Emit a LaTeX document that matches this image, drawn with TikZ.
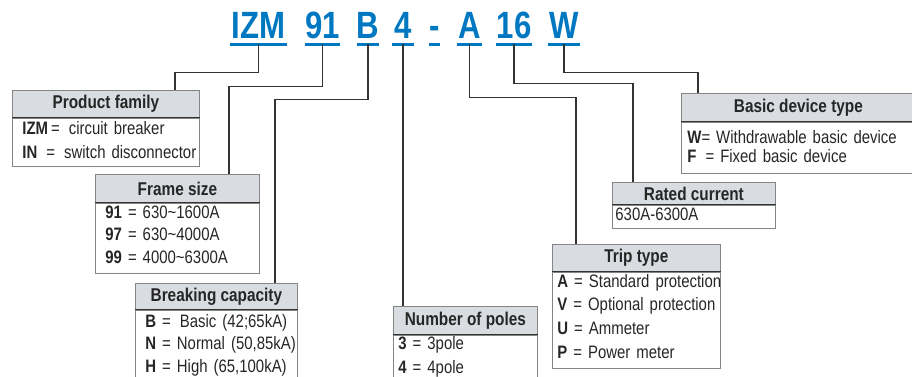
\documentclass[tikz,border=0pt]{standalone}
\usepackage{fontspec}
\setmainfont{Liberation Sans}[FakeStretch=0.83]
\newfontfamily\codefont{Liberation Sans}[FakeStretch=0.82]
\definecolor{codeblue}{HTML}{0078C1}
\definecolor{boxline}{HTML}{858585}
\definecolor{headfill}{HTML}{D9DDE1}
\definecolor{wire}{HTML}{333333}
\definecolor{ink}{HTML}{262626}
\begin{document}
\begin{tikzpicture}[x=1pt,y=1pt,
      code/.style={anchor=base,text=codeblue,font=\codefont\bfseries\fontsize{38}{38}\selectfont,
         text depth=0pt,inner xsep=0pt,inner ysep=5pt,
         append after command={(\tikzlastnode.south west) edge[codebar] (\tikzlastnode.south east)}},
      codebar/.style={draw=codeblue,line width=3pt},
      head/.style={draw=boxline,fill=headfill,anchor=north west,inner sep=0pt,line width=0.8pt,text=ink,
         minimum width=#1,minimum height=27pt,font=\bfseries\fontsize{18.5}{18.5}\selectfont},
      body/.style={draw=boxline,anchor=north west,align=left,inner ysep=0pt,inner xsep=6pt,line width=0.8pt,
         text=ink,text width=#1-12pt,text height=15pt,font=\fontsize{18}{24}\selectfont},
      sep/.style={draw=wire,line width=1pt},
      wire/.style={draw=wire,line width=1.2pt}]
   \useasboundingbox (0,0) rectangle (912,377);
   \clip (0,0) rectangle (912,377);
   % order code
   \node[code,minimum width=57pt] (izm) at (258.5,338) {IZM};
   \node[code,minimum width=33pt] (n91) at (322.5,338) {91};
   \node[code,minimum width=22pt] (nB) at (368,338) {B};
   \node[code,minimum width=22pt] (n4) at (403,338) {4};
   \node[code,minimum width=0pt,append after command={}] (dash) at (434.5,338) {-};
   \node[code,minimum width=25pt] (nA) at (469.5,338) {A};
   \node[code,minimum width=32pt] (n16) at (514,338) {16};
   \node[code,minimum width=32pt] (nW) at (564,338) {W};
   % boxes
   \node[head=187pt] (pfh) at (12,287) {Product family};
   \node[body=187pt,inner xsep=10pt,text width=167pt,text height=16pt,text depth=32pt] (pfb) at (pfh.south west)
      {\mbox{\textbf{IZM}\,= \,circuit breaker}\\ \mbox{\textbf{IN} \,=\, switch disconnector}};
   \node[head=164pt,minimum height=28pt] (fsh) at (95,203) {Frame size};
   \node[body=164pt,inner xsep=10pt,text width=144pt,text depth=55pt,font=\fontsize{18}{22.5}\selectfont] (fsb) at (fsh.south west)
      {\textbf{91} = 630\char`~1600A\\ \textbf{97} = 630\char`~4000A\\ \textbf{99} = 4000\char`~6300A};
   \node[head=162pt,minimum height=26pt] (brh) at (135,94) {Breaking capacity};
   \node[body=162pt,inner xsep=10pt,text width=142pt,text height=17pt,text depth=60pt,font=\fontsize{18}{22.5}\selectfont] (brb) at (brh.south west)
      {\mbox{\textbf{B} = \,Basic (42;65kA)}\\ \mbox{\textbf{N} = Normal (50,85kA)}\\ \mbox{\textbf{H} = High (65,100kA)}};
   \node[head=144pt,minimum height=28pt] (pnh) at (393,71) {Number of poles};
   \node[body=144pt,inner xsep=5pt,text width=134pt,text height=14pt,text depth=40pt] (pnb) at (pnh.south west)
      {\textbf{3} = 3pole\\ \textbf{4} = 4pole};
   \node[head=168pt] (trh) at (552,133) {Trip type};
   \node[body=168pt,inner xsep=5pt,text width=158pt,text depth=81pt,font=\fontsize{18}{23.7}\selectfont] (trb) at (trh.south west)
      {\mbox{\textbf{A} = Standard protection}\\ \mbox{\textbf{V} = Optional protection}\\ \textbf{U} = Ammeter\\ \textbf{P} = Power meter};
   \node[head=234pt,minimum height=28pt] (bdh) at (681,284) {Basic device type};
   \node[body=234pt,text height=21pt,text depth=30pt,font=\fontsize{18}{19}\selectfont] (bdb) at (bdh.south west)
      {\mbox{\textbf{W}= Withdrawable basic device}\\ \textbf{F} \,= Fixed basic device};
   \node[head=163pt,minimum height=22pt] (rch) at (612,195) {Rated current};
   \node[body=163pt,inner xsep=3pt,text width=157pt,text depth=8pt] (rcb) at (rch.south west) {630A-6300A};
   % header rules
   \foreach \h in {pfh,fsh,brh,pnh,trh,bdh,rch}
      \draw[sep] (\h.south west) -- (\h.south east);
   % connectors
   \draw[wire] (izm.south) -- ++(0,-28) -| ([xshift=163pt]pfh.north west);
   \draw[wire] (n91.south) -- ++(0,-42) -| ([xshift=134pt]fsh.north west);
   \draw[wire] (nB.south) -- ++(0,-55) -| ([xshift=140pt]brh.north west);
   \draw[wire] (n4.south) -- (n4.south |- pnh.north);
   \draw[wire] (nA.south) -- ++(0,-53) -| ([xshift=24pt]trh.north west);
   \draw[wire] (n16.south) -- ++(0,-39) -| ([xshift=21pt]rch.north west);
   \draw[wire] (nW.south) -- ++(0,-28) -| ([xshift=17pt]bdh.north west);
\end{tikzpicture}
\end{document}
